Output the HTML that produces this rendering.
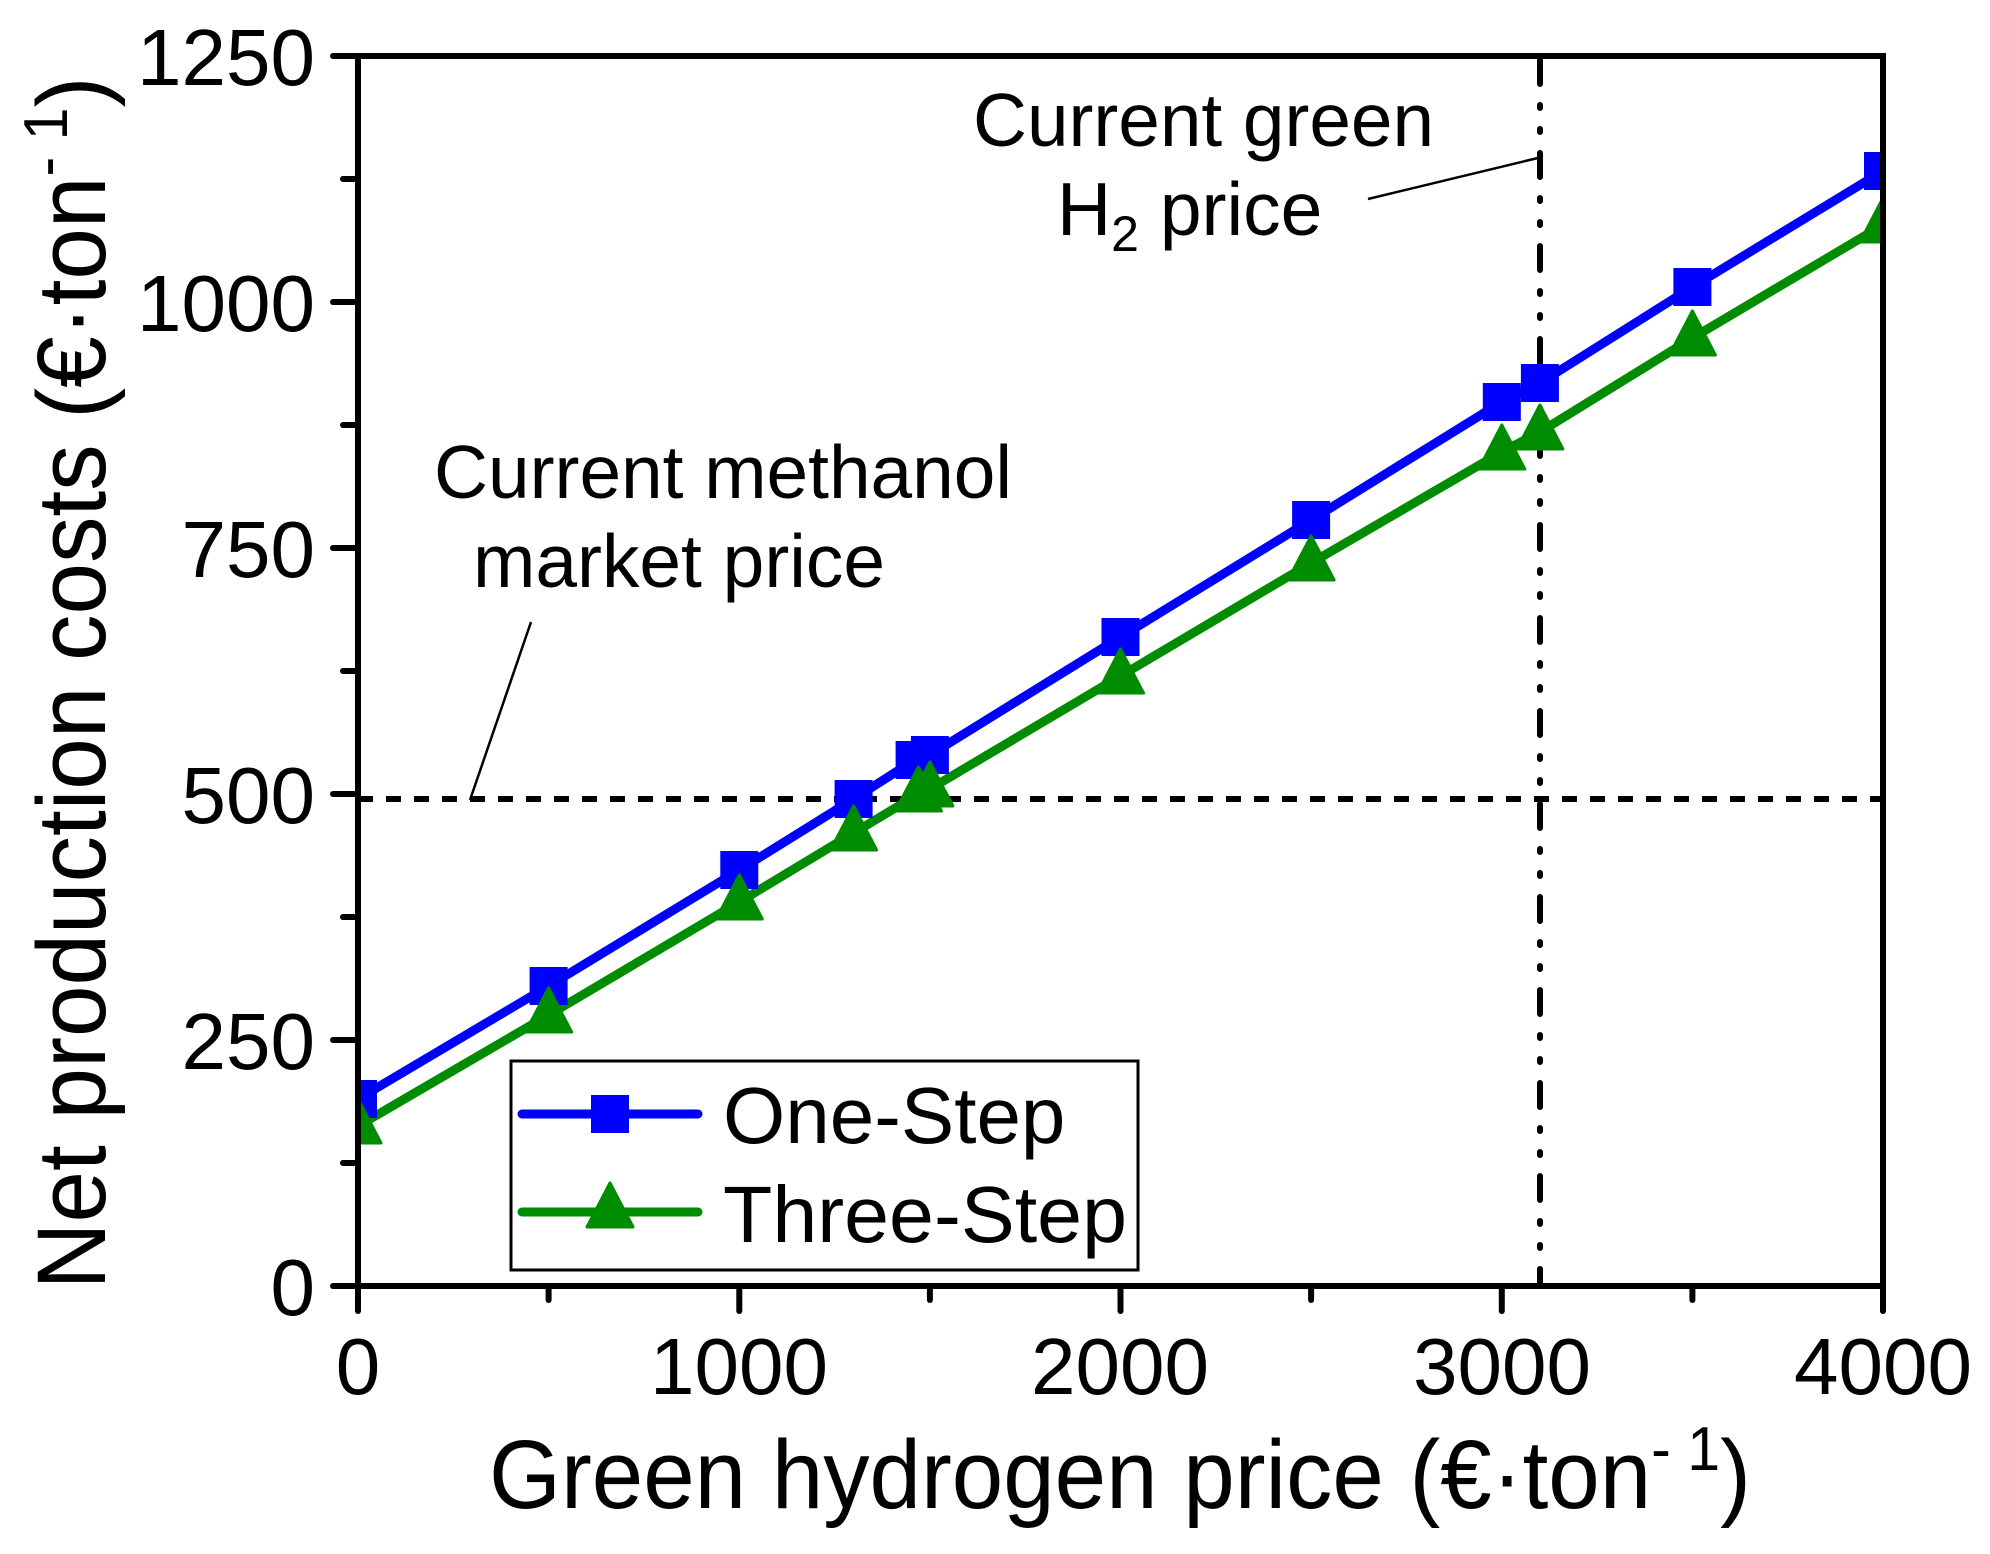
<!DOCTYPE html>
<html><head><meta charset="utf-8"><style>html,body{margin:0;padding:0;background:#fff}svg{display:block}</style></head>
<body>
<svg width="1990" height="1554" viewBox="0 0 1990 1554" xmlns="http://www.w3.org/2000/svg" font-family="Liberation Sans, Arial, sans-serif">
<defs>
<clipPath id="pc"><rect x="358" y="56" width="1525" height="1230"/></clipPath>
<symbol id="sq" overflow="visible"><rect x="-19" y="-19" width="38" height="38" fill="#0000ff"/></symbol>
<symbol id="tr" overflow="visible"><polygon points="0,-27 23,17 -23,17" fill="#008c00" stroke="#008c00" stroke-width="3" stroke-linejoin="round"/></symbol>
</defs>
<!-- reference lines -->
<line x1="358" y1="799" x2="1883" y2="799" stroke="#000" stroke-width="6" stroke-dasharray="15 13"/>
<line x1="1540" y1="60" x2="1540" y2="1286" stroke="#000" stroke-width="6" stroke-linecap="round" stroke-dasharray="24 21 3 21 3 21"/>
<line x1="470" y1="800" x2="531" y2="622" stroke="#000" stroke-width="2.5"/>
<line x1="1368" y1="199" x2="1542" y2="157" stroke="#000" stroke-width="2.5"/>
<g clip-path="url(#pc)">
<polyline fill="none" stroke="#0000ff" stroke-width="9" stroke-linejoin="round" points="358,1099 548.6,986 739.3,870 853.6,799 914.6,760 929.9,755 1120.5,637 1311.1,520 1501.8,402 1539.9,383 1692.4,287 1883,171"/>
<polyline fill="none" stroke="#008c00" stroke-width="9" stroke-linejoin="round" points="358,1126 548.6,1015 739.3,902 853.6,833 918.4,794 929.9,789 1120.5,676 1311.1,563 1501.8,452 1539.9,432 1692.4,338 1883,225"/>
<use href="#sq" x="358" y="1099"/><use href="#sq" x="548.6" y="986"/><use href="#sq" x="739.3" y="870"/><use href="#sq" x="853.6" y="799"/><use href="#sq" x="914.6" y="760"/><use href="#sq" x="929.9" y="755"/><use href="#sq" x="1120.5" y="637"/><use href="#sq" x="1311.1" y="520"/><use href="#sq" x="1501.8" y="402"/><use href="#sq" x="1539.9" y="383"/><use href="#sq" x="1692.4" y="287"/><use href="#sq" x="1883" y="171"/>
<use href="#tr" x="358" y="1126"/><use href="#tr" x="548.6" y="1015"/><use href="#tr" x="739.3" y="902"/><use href="#tr" x="853.6" y="833"/><use href="#tr" x="918.4" y="794"/><use href="#tr" x="929.9" y="789"/><use href="#tr" x="1120.5" y="676"/><use href="#tr" x="1311.1" y="563"/><use href="#tr" x="1501.8" y="452"/><use href="#tr" x="1539.9" y="432"/><use href="#tr" x="1692.4" y="338"/><use href="#tr" x="1883" y="225"/>
</g>
<!-- frame -->
<rect x="358" y="56" width="1525" height="1230" fill="none" stroke="#000" stroke-width="6"/>
<g stroke="#000" stroke-width="6" stroke-linecap="round">
<line x1="333" y1="56" x2="358" y2="56"/><line x1="333" y1="302" x2="358" y2="302"/><line x1="333" y1="548" x2="358" y2="548"/><line x1="333" y1="794" x2="358" y2="794"/><line x1="333" y1="1040" x2="358" y2="1040"/><line x1="333" y1="1286" x2="358" y2="1286"/>
<line x1="343" y1="179" x2="358" y2="179"/><line x1="343" y1="425" x2="358" y2="425"/><line x1="343" y1="671" x2="358" y2="671"/><line x1="343" y1="917" x2="358" y2="917"/><line x1="343" y1="1163" x2="358" y2="1163"/>
<line x1="358" y1="1286" x2="358" y2="1311"/><line x1="739.3" y1="1286" x2="739.3" y2="1311"/><line x1="1120.5" y1="1286" x2="1120.5" y2="1311"/><line x1="1501.8" y1="1286" x2="1501.8" y2="1311"/><line x1="1883" y1="1286" x2="1883" y2="1311"/>
<line x1="548.6" y1="1286" x2="548.6" y2="1300"/><line x1="929.9" y1="1286" x2="929.9" y2="1300"/><line x1="1311.1" y1="1286" x2="1311.1" y2="1300"/><line x1="1692.4" y1="1286" x2="1692.4" y2="1300"/>
</g>
<!-- tick labels -->
<g font-size="80" fill="#000" text-anchor="end">
<text x="315" y="85">1250</text><text x="315" y="331">1000</text><text x="315" y="577">750</text><text x="315" y="823">500</text><text x="315" y="1069">250</text><text x="315" y="1315">0</text>
</g>
<g font-size="80" fill="#000" text-anchor="middle">
<text x="358" y="1394">0</text><text x="739" y="1394">1000</text><text x="1120" y="1394">2000</text><text x="1502" y="1394">3000</text><text x="1883" y="1394">4000</text>
</g>
<!-- axis titles -->
<text x="1120" y="1508" font-size="97" text-anchor="middle" textLength="1262" lengthAdjust="spacingAndGlyphs">Green hydrogen price (€·ton<tspan font-size="62" dy="-38">- 1</tspan><tspan dy="38">)</tspan></text>
<text transform="translate(105,683) rotate(-90)" font-size="97" text-anchor="middle" textLength="1213" lengthAdjust="spacingAndGlyphs">Net production costs (€·ton<tspan font-size="62" dy="-38">- 1</tspan><tspan dy="38">)</tspan></text>
<!-- annotations -->
<g font-size="75" fill="#000">
<text x="434" y="498" textLength="578" lengthAdjust="spacingAndGlyphs">Current methanol</text>
<text x="473" y="587" textLength="412" lengthAdjust="spacingAndGlyphs">market price</text>
<text x="973" y="146" textLength="461" lengthAdjust="spacingAndGlyphs">Current green</text>
<text x="1057" y="235">H<tspan font-size="50" dy="16">2</tspan><tspan dy="-16"> price</tspan></text>
</g>
<!-- legend -->
<rect x="511" y="1061" width="627" height="209" fill="#fff" stroke="#000" stroke-width="3"/>
<line x1="522" y1="1114" x2="698" y2="1114" stroke="#0000ff" stroke-width="9" stroke-linecap="round"/>
<use href="#sq" x="610" y="1114"/>
<line x1="522" y1="1212" x2="698" y2="1212" stroke="#008c00" stroke-width="9" stroke-linecap="round"/>
<use href="#tr" x="610" y="1210"/>
<g font-size="80" fill="#000">
<text x="723" y="1143">One-Step</text>
<text x="723" y="1242" textLength="404" lengthAdjust="spacingAndGlyphs">Three-Step</text>
</g>
</svg>
</body></html>
